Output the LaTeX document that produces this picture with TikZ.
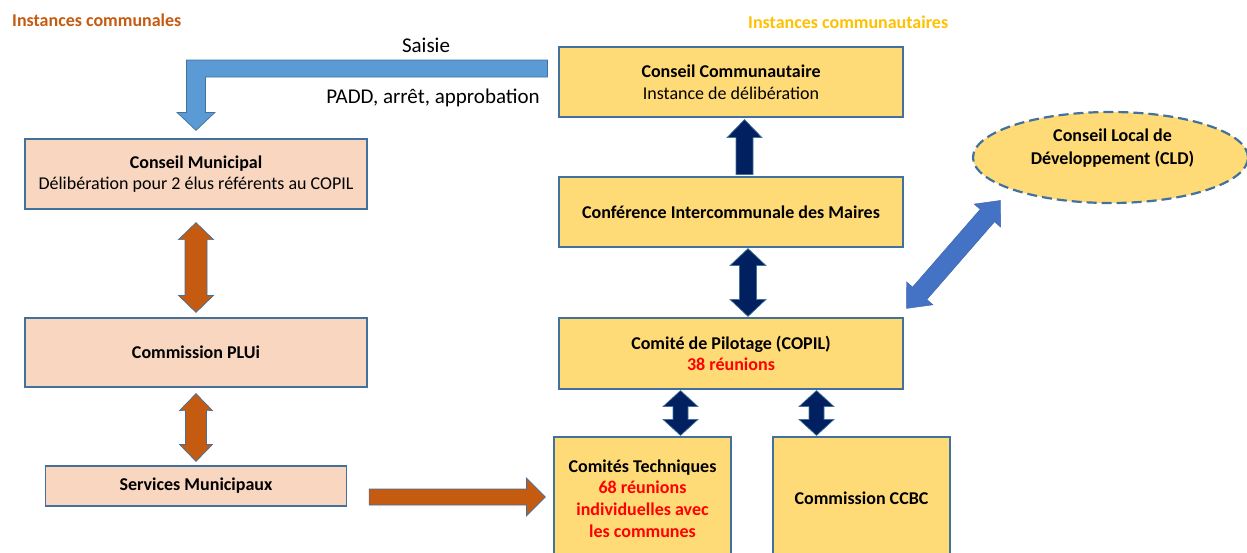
\documentclass[tikz,border=0pt]{standalone}
\usepackage{fontspec}
\setmainfont{Carlito}
\usetikzlibrary{positioning,calc,shapes.geometric}
\definecolor{myborder}{HTML}{41719C}
\definecolor{mypink}{HTML}{F8D6BF}
\definecolor{myyellow}{HTML}{FFDB78}
\definecolor{myorange}{HTML}{C55A11}
\definecolor{mynavy}{HTML}{002060}
\definecolor{mylightblue}{HTML}{5B9BD5}
\definecolor{myblue}{HTML}{4472C4}
\definecolor{mygold}{HTML}{FFC000}
\definecolor{myred}{HTML}{FF0000}
\tikzset{
  box/.style={draw=myborder,line width=1.2pt,align=center,inner sep=2pt},
  box commune/.style={box,fill=mypink},
  box interco/.style={box,fill=myyellow},
  connect/.style={draw=myborder,line width=0.7pt,line join=miter},
  connect orange/.style={connect,fill=myorange},
  connect navy/.style={connect,fill=mynavy},
  connect blue/.style={connect,fill=mylightblue},
  connect diag/.style={fill=myblue,draw=myblue!85!black,line width=0.4pt},
  head text/.style={anchor=west,inner sep=0},
  big text/.style={font=\fontsize{21}{25}\selectfont}
}
% block arrows: [style]{from}{to}{half shaft}{half head}{head length}
\newcommand{\dblarrow}[6][]{%
  \draw[#1] (#2) -- ($(#2)!#6!(#3)!#5!90:(#3)$) -- ($(#2)!#6!(#3)!#4!90:(#3)$)
    -- ($(#3)!#6!(#2)!#4!-90:(#2)$) -- ($(#3)!#6!(#2)!#5!-90:(#2)$) -- (#3)
    -- ($(#3)!#6!(#2)!#5!90:(#2)$) -- ($(#3)!#6!(#2)!#4!90:(#2)$)
    -- ($(#2)!#6!(#3)!#4!-90:(#3)$) -- ($(#2)!#6!(#3)!#5!-90:(#3)$) -- cycle;}
\newcommand{\sglarrow}[6][]{%
  \draw[#1] ($(#2)!#4!90:(#3)$) -- ($(#3)!#6!(#2)!#4!-90:(#2)$)
    -- ($(#3)!#6!(#2)!#5!-90:(#2)$) -- (#3) -- ($(#3)!#6!(#2)!#5!90:(#2)$)
    -- ($(#3)!#6!(#2)!#4!90:(#2)$) -- ($(#2)!#4!-90:(#3)$) -- cycle;}

\begin{document}
\begin{tikzpicture}[x=1pt,y=-1pt,font=\fontsize{18}{21.6}\selectfont]
  \useasboundingbox (0,0) rectangle (1247,552);

  \node[head text,text=myorange] (hcom) at (12,20) {\textbf{Instances communales}};
  \node[head text,text=mygold] (hcct) at (748,22) {\textbf{Instances communautaires}};

  % communes
  \node[box commune,minimum width=342,minimum height=70] (cm) at (196,174)
    {\textbf{Conseil Municipal}\\Délibération pour 2 élus référents au COPIL};
  \node[box commune,minimum width=342,minimum height=69,below=107.8pt of cm] (plui) {\textbf{Commission PLUi}};
  \node[box commune,minimum width=301,minimum height=40,below=77.8pt of plui] (serv) {\textbf{Services Municipaux}};

  % communaute
  \node[box interco,minimum width=344,minimum height=70] (cc) at (731,82)
    {\textbf{Conseil Communautaire}\\Instance de délibération};
  \node[box interco,minimum width=344,minimum height=70,below=58.8pt of cc] (cim) {\textbf{Conférence Intercommunale des Maires}};
  \node[box interco,minimum width=344,minimum height=71,below=69.8pt of cim] (copil)
    {\textbf{Comité de Pilotage (COPIL)}\\\textcolor{myred}{\textbf{38 réunions}}};
  \node[box interco,minimum width=177,minimum height=123] (ct) at (642.5,498.5)
    {\textbf{Comités Techniques}\\\textcolor{myred}{\textbf{68 réunions}}\\\textcolor{myred}{\textbf{individuelles avec}}\\\textcolor{myred}{\textbf{les communes}}};
  \node[box interco,minimum width=177,minimum height=123] (ccbc) at (861.5,498.5) {\textbf{Commission CCBC}};
  \node[ellipse,draw=myborder,fill=myyellow,line width=2.2pt,dash pattern=on 10pt off 5pt,
    minimum width=275,minimum height=91] (cld) at (1110.5,157.5) {};
  \node[align=center,font=\fontsize{18}{23}\selectfont] (cldtext) at ($(cld)+(2,-9)$)
    {\textbf{Conseil Local de}\\\textbf{Développement (CLD)}};

  % saisie
  \coordinate (bA) at ($(cc.west)+(-11,-22)$);
  \coordinate (bT) at ($(cm.north)+(0,-8)$);
  \draw[connect blue] (bA) -- ($(bA -| bT)+(-9.5,0)$) -- ($(bT)+(-9.5,-18)$) -- ($(bT)+(-19,-18)$)
    -- (bT) -- ($(bT)+(19,-18)$) -- ($(bT)+(9.5,-18)$) -- ($(bA -| bT)+(9.5,17)$)
    -- ($(bA)+(0,17)$) -- cycle;
  \node[big text] (saisie) at (426,45) {Saisie};
  \node[big text] (padd) at (433,98) {PADD, arrêt, approbation};

  % orange
  \coordinate (o1a) at ($(cm.south)+(0,13)$);
  \coordinate (o1b) at ($(plui.north)+(0,-5)$);
  \dblarrow[connect orange]{o1a}{o1b}{11pt}{17.5pt}{17pt}
  \coordinate (o2a) at ($(plui.south)+(0,6)$);
  \coordinate (o2b) at ($(serv.north)+(0,-4)$);
  \dblarrow[connect orange]{o2a}{o2b}{10.5pt}{16.5pt}{17pt}
  \coordinate (o3a) at ($(serv.east)+(22,11)$);
  \coordinate (o3b) at ($(ct.west |- o3a)+(-8,0)$);
  \sglarrow[connect orange]{o3a}{o3b}{8pt}{19pt}{19pt}

  % navy
  \coordinate (n1a) at ($(cim.north)+(13.5,-2)$);
  \coordinate (n1b) at ($(cc.south)+(13.5,2)$);
  \sglarrow[connect navy]{n1a}{n1b}{8.5pt}{17.5pt}{18pt}
  \coordinate (n2a) at ($(cim.south)+(17,1)$);
  \coordinate (n2b) at ($(copil.north)+(17,-1)$);
  \dblarrow[connect navy]{n2a}{n2b}{8.5pt}{18pt}{17pt}
  \foreach \dx/\nm in {-50.5/ct,85.5/ccbc}{
    \coordinate (s\nm) at ($(copil.south)+(\dx,1)$);
    \coordinate (e\nm) at ($(s\nm |- \nm.north)+(0,-1)$);
    \dblarrow[connect navy]{s\nm}{e\nm}{7.5pt}{17.5pt}{16pt}
  }

  % cld
  \coordinate (b1a) at ($(copil.north east)+(3,-9)$);
  \coordinate (b1b) at ($(cld.south west)+(-12,10)$);
  \dblarrow[connect diag]{b1a}{b1b}{9.5pt}{17.5pt}{20pt}
\end{tikzpicture}
\end{document}
